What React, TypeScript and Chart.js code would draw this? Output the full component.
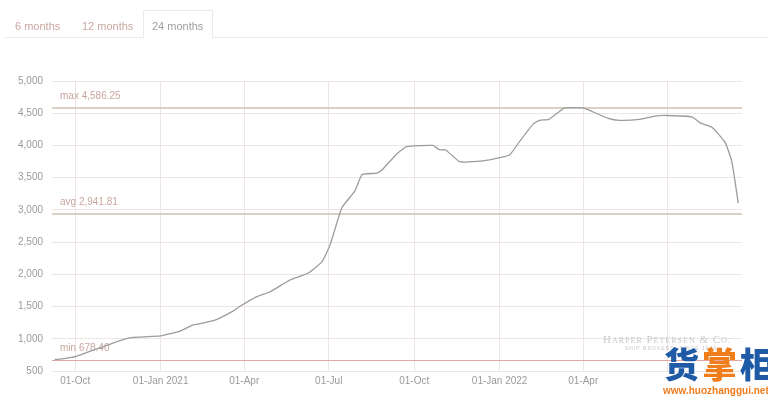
import React, { useEffect, useRef } from "react";
import { Chart, registerables } from "chart.js";

Chart.register(...registerables);

const dates = [
  "2020-09-09", "2020-09-19", "2020-10-01", "2020-11-26", "2021-01-01", "2021-01-22",
  "2021-02-05", "2021-02-27", "2021-03-20", "2021-03-27", "2021-04-14", "2021-04-29",
  "2021-05-20", "2021-06-09", "2021-06-24", "2021-07-03", "2021-07-15", "2021-07-29",
  "2021-08-06", "2021-08-22", "2021-08-28", "2021-09-13", "2021-09-23", "2021-10-21",
  "2021-10-28", "2021-11-04", "2021-11-19", "2021-12-14", "2022-01-01", "2022-01-12",
  "2022-01-23", "2022-02-06", "2022-02-13", "2022-02-23", "2022-03-11", "2022-03-18",
  "2022-04-01", "2022-04-06", "2022-04-28", "2022-05-10", "2022-06-01", "2022-06-17",
  "2022-06-30", "2022-07-27", "2022-08-05", "2022-08-18", "2022-09-01", "2022-09-08",
  "2022-09-15",
];
const values = [
  678.4, 692, 722, 1008, 1045, 1120,
  1215, 1280, 1430, 1500, 1650, 1730,
  1910, 2020, 2200, 2480, 3030, 3290,
  3550, 3570, 3630, 3880, 3980, 4000,
  3934, 3930, 3750, 3760, 3810, 3857,
  4070, 4330, 4390, 4405, 4575, 4586.25,
  4583, 4556, 4420, 4390, 4405, 4455,
  4465, 4442, 4350, 4280, 4040, 3750,
  3106,
];
const tickDates = [
  "2020-10-01", "2021-01-01", "2021-04-01", "2021-07-01",
  "2021-10-01", "2022-01-01", "2022-04-01", "2022-07-01",
];
const tickLabels = [
  "01-Oct", "01-Jan 2021", "01-Apr", "01-Jul",
  "01-Oct", "01-Jan 2022", "01-Apr", "",
];
const yTicks = [500, 1000, 1500, 2000, 2500, 3000, 3500, 4000, 4500, 5000];
const refNames = ["max", "avg", "min"];
const refValues = [4586.25, 2941.81, 678.4];
const tabs = ["6 months", "12 months", "24 months"];

const day = (s: string) => {
  const [y, m, d] = s.split("-").map(Number);
  return (Date.UTC(y, m - 1, d) - Date.UTC(2020, 0, 1)) / 864e5;
};

const fmt = (v: number, dec = 0) =>
  v.toLocaleString("en-US", { minimumFractionDigits: dec, maximumFractionDigits: dec });

const refPlugin = {
  id: "refLines",
  beforeDatasetsDraw(chart: any) {
    const { ctx, chartArea, scales } = chart;
    const y = scales.y;
    ctx.save();
    refNames.forEach((name, i) => {
      const py = Math.round(y.getPixelForValue(refValues[i])) + (name === "min" ? 0.5 : 0);
      ctx.beginPath();
      ctx.strokeStyle = name === "min" ? "#e3a7a0" : "#d9d1c6";
      ctx.lineWidth = name === "min" ? 1 : 2;
      ctx.moveTo(chartArea.left, py);
      ctx.lineTo(chartArea.right, py);
      ctx.stroke();
      ctx.fillStyle = "#c8a59f";
      ctx.font = "10px 'Liberation Sans', Arial, sans-serif";
      ctx.textAlign = "left";
      ctx.textBaseline = "middle";
      ctx.fillText(name + " " + fmt(refValues[i], 2), chartArea.left + 8, py - 12);
    });
    ctx.fillStyle = "#c9c9c9";
    ctx.font = "small-caps 11px 'Liberation Serif', serif";
    ctx.textAlign = "left";
    (ctx as any).letterSpacing = "1px";
    ctx.fillText("Harper Petersen & Co.", 603, 340);
    ctx.font = "5px 'Liberation Sans', sans-serif";
    ctx.fillText("SHIP BROKERS  SINCE 1936", 625, 349);
    ctx.restore();
  },
};

export default function App() {
  const ref = useRef<HTMLCanvasElement>(null);
  useEffect(() => {
    if (!ref.current) return;
    const chart = new Chart(ref.current, {
      type: "line",
      data: {
        datasets: [
          {
            data: dates.map((d, i) => ({ x: day(d), y: values[i] })),
            borderColor: "#9c9c9c",
            borderWidth: 1.3,
            pointRadius: 0,
            tension: 0.15,
            fill: false,
          },
        ],
      },
      options: {
        animation: false,
        responsive: false,
        maintainAspectRatio: false,
        layout: { padding: { left: 0, right: 26, top: 81, bottom: 0 } },
        plugins: { legend: { display: false }, tooltip: { enabled: false } },
        scales: {
          x: {
            type: "linear",
            min: day(dates[0]) - 3,
            max: day(dates[dates.length - 1]) + 4,
            afterBuildTicks: (s: any) => {
              s.ticks = tickDates.map((d) => ({ value: day(d) }));
            },
            afterFit: (s: any) => {
              s.height = 37;
            },
            border: { display: false },
            grid: { color: "#ede5e4", drawTicks: false, lineWidth: 1 },
            ticks: {
              autoSkip: false,
              maxRotation: 0,
              padding: 4,
              color: "#9a9a9a",
              font: { size: 10, family: "'Liberation Sans', Arial, sans-serif" },
              callback: (_v: any, i: number) => tickLabels[i],
            },
          },
          y: {
            min: 500,
            max: 5000,
            afterBuildTicks: (s: any) => {
              s.ticks = yTicks.map((v) => ({ value: v }));
            },
            afterFit: (s: any) => {
              s.width = 52;
            },
            border: { display: false },
            grid: { color: "#ede5e4", drawTicks: false, lineWidth: 1 },
            ticks: {
              padding: 9,
              color: "#9a9a9a",
              font: { size: 10, family: "'Liberation Sans', Arial, sans-serif" },
              callback: (v: any) => fmt(Number(v)),
            },
          },
        },
      },
      plugins: [refPlugin],
    } as any);
    return () => chart.destroy();
  }, []);

  const tabX = [15, 82, 152];
  return (
    <div style={{ position: "fixed", left: 0, top: 0, width: 768, height: 408, background: "#fff", overflow: "hidden" }}>
      <canvas ref={ref} width={768} height={408} style={{ position: "absolute", left: 0, top: 0 }} />
      <div style={{ position: "absolute", left: 5, right: 0, top: 37, height: 1, background: "#eceaea" }} />
      <div style={{ position: "absolute", left: 143, top: 10, width: 68, height: 27, border: "1px solid #ebe9e9", borderBottom: "1px solid #fff", background: "#fff" }} />
      {tabs.map((t, i) => (
        <div
          key={t}
          style={{
            position: "absolute",
            left: tabX[i],
            top: 19,
            fontFamily: "'Liberation Sans', Arial, sans-serif",
            fontSize: 11,
            color: i === 2 ? "#9e9e9e" : "#c9a7a0",
            lineHeight: "14px",
          }}
        >
          {t}
        </div>
      ))}
      <div style={{ position: "absolute", left: 664, top: 341, fontFamily: "'Noto Sans CJK SC', sans-serif", fontWeight: 900, fontSize: 35, lineHeight: "44px", letterSpacing: 3, whiteSpace: "nowrap" }}>
        <span style={{ color: "#1f5aa6" }}>货</span>
        <span style={{ color: "#f07d1c" }}>掌</span>
        <span style={{ color: "#1f5aa6" }}>柜</span>
      </div>
      <div style={{ position: "absolute", left: 663, top: 385, fontFamily: "'Liberation Sans', Arial, sans-serif", fontWeight: 700, fontSize: 10, color: "#f07d1c", whiteSpace: "nowrap" }}>
        www.huozhanggui.net
      </div>
    </div>
  );
}
